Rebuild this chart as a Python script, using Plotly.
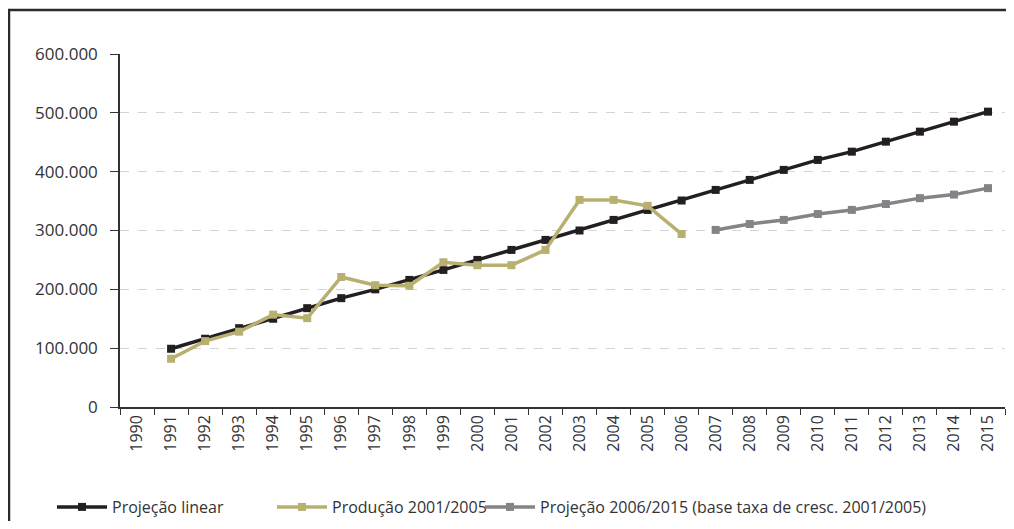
import plotly.graph_objects as go

years = [str(y) for y in range(1990, 2016)]

linear_years = [str(y) for y in range(1991, 2016)]
linear_vals = [99000, 116000, 134000, 150000, 168000, 185000, 200000, 216000, 233000,
               250000, 267000, 284000, 300000, 318000, 335000, 351000, 369000, 386000,
               403000, 420000, 434000, 451000, 468000, 485000, 502000]

prod_years = [str(y) for y in range(1991, 2007)]
prod_vals = [82000, 112000, 128000, 157000, 151000, 221000, 207000, 206000, 246000,
             241000, 241000, 267000, 352000, 352000, 342000, 294000]

proj_years = [str(y) for y in range(2007, 2016)]
proj_vals = [301000, 311000, 318000, 328000, 335000, 345000, 355000, 361000, 372000]

names = ["Projeção linear", "Produção 2001/2005",
         "Projeção 2006/2015 (base taxa de cresc. 2001/2005)"]
colors = ["#231f20", "#b8b070", "#848488"]
legend_ids = ["legend", "legend2", "legend3"]

FONT = "Open Sans"
# page body has an 8px margin: figure coordinates = screen coordinates - 8
OFF = 8
W, H = 1014 - 2 * OFF, 529 - 2 * OFF
L, T = 120 - OFF, 54 - OFF
R = W - (1005 - OFF)
B = H - (407 - OFF)
pw, ph = W - L - R, H - T - B


def px(x):
    """screen x -> paper x"""
    return (x - OFF - L) / pw


def py(y):
    """screen y -> paper y"""
    return (T + ph + OFF - y) / ph


legend_x_screen = [52, 272, 480]

fig = go.Figure()
for xs, ys, nm, col, lg in zip([linear_years, prod_years, proj_years],
                               [linear_vals, prod_vals, proj_vals], names, colors, legend_ids):
    fig.add_trace(go.Scatter(
        x=xs, y=ys, name=nm, mode="lines+markers", legend=lg,
        line=dict(color=col, width=3.5),
        marker=dict(symbol="square", size=8, color=col),
    ))

legend_common = dict(orientation="h", yanchor="middle", xanchor="left",
                     font=dict(family=FONT, size=16, color="#333333"),
                     itemwidth=50, bgcolor="rgba(0,0,0,0)")
legends = {}
for lg, lx in zip(legend_ids, legend_x_screen):
    legends[lg] = dict(x=px(lx), y=py(507), **legend_common)

frame_path = "M {:.5f},{:.5f} L {:.5f},{:.5f} L {:.5f},{:.5f}".format(
    px(9), py(H + OFF), px(9), py(10), px(W + OFF), py(10))

fig.update_layout(
    width=W, height=H,
    margin=dict(l=L, r=R, t=T, b=B, pad=0, autoexpand=False),
    paper_bgcolor="white", plot_bgcolor="white",
    separators=",.",
    font=dict(family=FONT, size=15, color="#333333"),
    showlegend=True,
    xaxis=dict(type="category", categoryorder="array", categoryarray=years,
               tickvals=years, ticktext=years, range=[-0.5, len(years) - 0.5],
               tickangle=-90, tickson="boundaries", ticks="outside", ticklen=6,
               tickcolor="#333333", showline=True, linecolor="#333333", linewidth=1.5,
               showgrid=False, tickfont=dict(family=FONT, size=16, color="#333333")),
    yaxis=dict(range=[0, 600000], tickvals=[0, 100000, 200000, 300000, 400000, 500000, 600000],
               tickformat=",.0f", ticks="outside", ticklen=8, tickcolor="#333333",
               ticklabelstandoff=9,
               showline=True, linecolor="#333333", linewidth=1.5,
               showgrid=True, gridcolor="#d4d4d4", griddash="dash", gridwidth=1.2,
               zeroline=False, tickfont=dict(family=FONT, size=17, color="#333333")),
    shapes=[
        dict(type="path", xref="paper", yref="paper", path=frame_path,
             line=dict(color="#2b2b2b", width=2.5)),
    ],
    **legends,
)

fig.write_html("out.html")
